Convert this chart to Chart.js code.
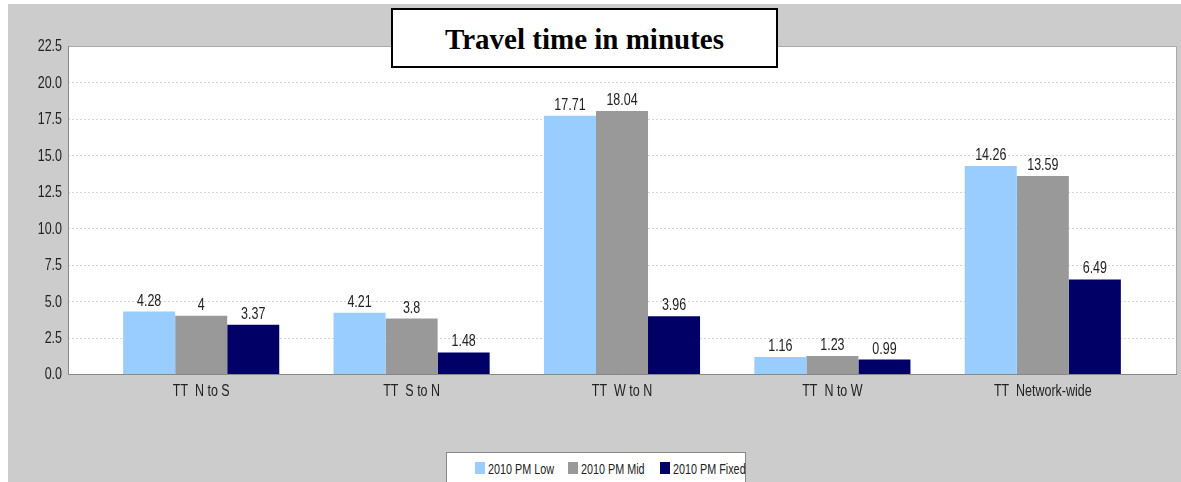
<!DOCTYPE html>
<html>
<head>
<meta charset="utf-8">
<script src="https://cdn.jsdelivr.net/npm/chart.js@4/dist/chart.umd.min.js"></script>
<style>
  html, body { margin: 0; padding: 0; background: #fff; }
  #wrap { position: relative; width: 1181px; height: 482px; }
  #title {
    position: absolute; left: 391px; top: 8px; width: 383px; height: 56px;
    border: 2px solid #000; background: #fff; box-sizing: content-box;
    font: bold 29px "Liberation Serif", "Times New Roman", serif;
    text-align: center; line-height: 58px; color: #000;
  }
  #legend {
    position: absolute; left: 446px; top: 452px; width: 298px; height: 30px;
    border: 1px solid #888; background: #fff;
    font: 15px "Liberation Sans", Arial, sans-serif; color: #222;
  }
  #legend i { position: absolute; top: 9px; width: 10px; height: 12px; }
  #legend span { position: absolute; top: 7px; white-space: nowrap; transform: scaleX(0.72); transform-origin: 0 0; }
</style>
</head>
<body>
<div id="wrap">
  <canvas id="ttChart" width="1181" height="482"></canvas>
  <div id="title">Travel time in minutes</div>
  <div id="legend"></div>
</div>
<script>
const categories = ['TT  N to S', 'TT  S to N', 'TT  W to N', 'TT  N to W', 'TT  Network-wide'];
const pmLow = [4.28, 4.21, 17.71, 1.16, 14.26];
const pmMid = [4, 3.8, 18.04, 1.23, 13.59];
const pmFixed = [3.37, 1.48, 3.96, 0.99, 6.49];
const seriesNames = ['2010 PM Low', '2010 PM Mid', '2010 PM Fixed'];
const seriesColors = ['#99ccff', '#999999', '#000066'];
const yTicks = [0, 2.5, 5, 7.5, 10, 12.5, 15, 17.5, 20, 22.5];

const labelFont = '16px "Liberation Sans", Arial, sans-serif';
const squeeze = 0.78;  // the original uses a condensed face
const sideGap = 28;    // empty space between frame and first/last category

function narrowText(ctx, text, x, y) {
    ctx.save();
    ctx.translate(x, y);
    ctx.scale(squeeze, 1);
    ctx.fillText(text, 0, 0);
    ctx.restore();
}

// gray page, white plot area, dotted grid and frame
const backdrop = {
    id: 'backdrop',
    beforeDraw(chart) {
        const { ctx, chartArea: a } = chart;
        const y = chart.scales.y;
        const left = a.left - sideGap, right = a.right + sideGap + 1;
        ctx.save();
        ctx.fillStyle = '#fff';
        ctx.fillRect(0, 0, chart.width, chart.height);
        ctx.fillStyle = '#cccccc';
        ctx.fillRect(8, 4, chart.width - 8, chart.height - 4);
        ctx.fillStyle = '#fff';
        ctx.fillRect(left, a.top, right - left, a.bottom - a.top);
        ctx.strokeStyle = '#d4d4d4';
        ctx.setLineDash([2, 2]);
        y.ticks.forEach(t => {
            const py = Math.round(y.getPixelForValue(t.value)) + 0.5;
            ctx.beginPath();
            ctx.moveTo(left, py);
            ctx.lineTo(right, py);
            ctx.stroke();
        });
        ctx.restore();
    },
    afterDraw(chart) {
        const { ctx, chartArea: a } = chart;
        const left = a.left - sideGap, right = a.right + sideGap + 1;
        ctx.save();
        ctx.lineWidth = 1;
        ctx.strokeStyle = '#aaa';
        ctx.strokeRect(left + 0.5, a.top + 0.5, right - left - 1, a.bottom - a.top);
        ctx.strokeStyle = '#888';
        ctx.beginPath();
        ctx.moveTo(left + 0.5, a.top);
        ctx.lineTo(left + 0.5, a.bottom + 0.5);
        ctx.lineTo(right, a.bottom + 0.5);
        ctx.stroke();

        // axis labels, condensed
        const x = chart.scales.x, y = chart.scales.y;
        ctx.font = labelFont;
        ctx.fillStyle = '#222';
        ctx.textBaseline = 'middle';
        ctx.textAlign = 'right';
        y.ticks.forEach(t => {
            narrowText(ctx, t.value.toFixed(1), left - 6, y.getPixelForValue(t.value) + 1);
        });
        ctx.textAlign = 'center';
        chart.data.labels.forEach((lab, i) => {
            narrowText(ctx, lab, x.getPixelForTick(i), a.bottom + 18);
        });
        ctx.restore();
    }
};

// value text above each bar
const barValues = {
    id: 'barValues',
    afterDatasetsDraw(chart) {
        const ctx = chart.ctx;
        ctx.save();
        ctx.font = labelFont;
        ctx.fillStyle = '#222';
        ctx.textAlign = 'center';
        ctx.textBaseline = 'alphabetic';
        chart.data.datasets.forEach((ds, i) => {
            chart.getDatasetMeta(i).data.forEach((bar, j) => {
                narrowText(ctx, String(ds.data[j]), bar.x, bar.y - 6);
            });
        });
        ctx.restore();
    }
};

new Chart(document.getElementById('ttChart'), {
    type: 'bar',
    data: {
        labels: categories,
        datasets: [
            { label: seriesNames[0], data: pmLow, backgroundColor: seriesColors[0] },
            { label: seriesNames[1], data: pmMid, backgroundColor: seriesColors[1] },
            { label: seriesNames[2], data: pmFixed, backgroundColor: seriesColors[2] }
        ]
    },
    options: {
        responsive: false,
        animation: false,
        layout: { padding: { left: 8, top: 46, right: 5 + sideGap, bottom: 78 } },
        datasets: { bar: { barPercentage: 1.0, categoryPercentage: 0.742 } },
        plugins: {
            legend: { display: false },
            title: { display: false },
            tooltip: { enabled: false }
        },
        scales: {
            x: {
                grid: { display: false },
                border: { display: false },
                ticks: { display: false },
                afterFit(scale) { scale.height = 30; }
            },
            y: {
                min: 0,
                max: 22.5,
                afterBuildTicks(scale) { scale.ticks = yTicks.map(v => ({ value: v })); },
                grid: { display: false },
                border: { display: false },
                ticks: { display: false },
                afterFit(scale) { scale.width = 60 + sideGap; }
            }
        }
    },
    plugins: [backdrop, barValues]
});

// legend box under the chart
const legend = document.getElementById('legend');
const legendX = [28, 121, 213];
seriesNames.forEach((name, i) => {
    const sw = document.createElement('i');
    sw.style.left = legendX[i] + 'px';
    sw.style.background = seriesColors[i];
    legend.appendChild(sw);
    const txt = document.createElement('span');
    txt.style.left = (legendX[i] + 13) + 'px';
    txt.textContent = name;
    legend.appendChild(txt);
});
</script>
</body>
</html>
